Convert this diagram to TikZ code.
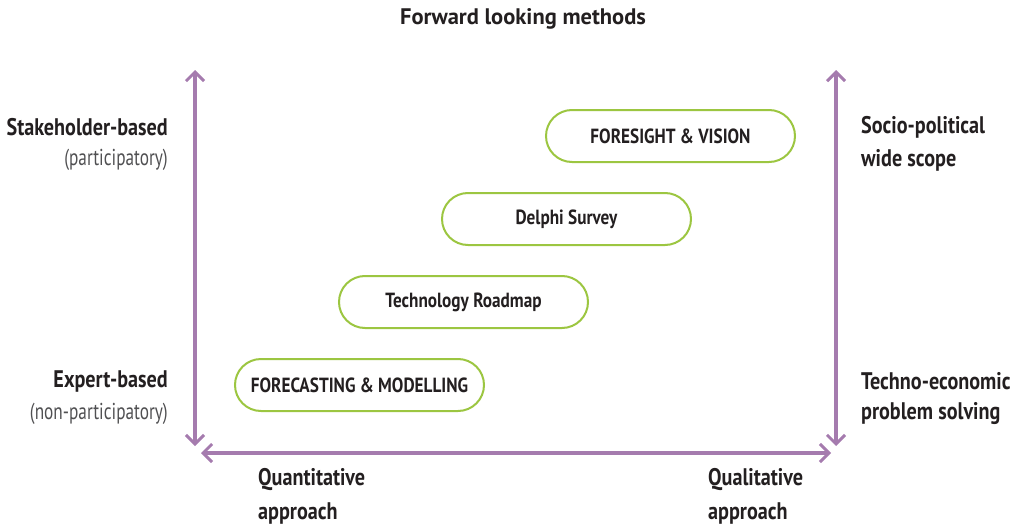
\documentclass[tikz,border=0pt]{standalone}
\usepackage{fontspec}
\setmainfont{PT Sans}[FakeStretch=0.84]
\newfontfamily\titlefont{PT Sans}
\newfontfamily\narrowfont{PT Sans}[FakeStretch=0.75]
\usetikzlibrary{arrows.meta}
\definecolor{axis}{HTML}{A57BAE}
\definecolor{pill}{HTML}{9CC641}
\definecolor{ink}{HTML}{231F20}
\definecolor{soft}{HTML}{505052}
\tikzset{
  pillbox/.style={draw=pill, line width=2pt, rounded corners=26pt, fill=white,
    minimum width=249pt, minimum height=52pt, font=\fontsize{20.5}{24}\selectfont\bfseries, text=ink},
  axisline/.style={draw=axis, line width=4pt, {Straight Barb[length=9pt,width=18pt,line width=3pt]}-{Straight Barb[length=9pt,width=18pt,line width=3pt]}},
  lab/.style={font=\fontsize{24}{33}\selectfont\bfseries, text=ink, inner sep=0pt},
  sublab/.style={font=\narrowfont\fontsize{23}{33}\selectfont, text=soft, inner sep=0pt},
}
\begin{document}
\begin{tikzpicture}[x=1pt,y=-1pt]
\useasboundingbox (0,0) rectangle (1021,530);
\node[font=\titlefont\fontsize{22.5}{26}\selectfont\bfseries, text=ink] (title) at (523,19) {Forward looking methods};

\coordinate (ltop) at (195,70);
\coordinate (lbot) at (195,446);
\coordinate (rtop) at (836,70);
\coordinate (rbot) at (836,446);
\coordinate (hl) at (201,453);
\coordinate (hr) at (831,453);
\draw[axisline] (ltop) -- (lbot);
\draw[axisline] (rtop) -- (rbot);
\draw[axisline] (hl) -- (hr);

\node[pillbox] (fv) at (670.5,136) {FORESIGHT \& VISION};
\node[pillbox] (ds) at (566.5,219) {Delphi Survey};
\node[pillbox] (tr) at (463.5,302) {Technology Roadmap};
\node[pillbox] (fm) at (359.5,385) {FORECASTING \& MODELLING};

\node[lab, anchor=east] (sb) at (168,127) {Stakeholder-based};
\node[sublab, anchor=east] (pa) at (168,160) {(participatory)};
\node[lab, anchor=east] (eb) at (168,381) {Expert-based};
\node[sublab, anchor=east] (np) at (168,414) {(non-participatory)};

\node[lab, anchor=west] (sp) at (861,127) {Socio-political};
\node[lab, anchor=west] (ws) at (861,160) {wide scope};
\node[lab, anchor=west] (te) at (861,381) {Techno-economic};
\node[lab, anchor=west] (ps) at (861,414) {problem solving};

\node[lab, anchor=west] (qn) at (258,480) {Quantitative};
\node[lab, anchor=west] (qna) at (258,513) {approach};
\node[lab, anchor=west] (ql) at (708,480) {Qualitative};
\node[lab, anchor=west] (qla) at (708,513) {approach};
\end{tikzpicture}
\end{document}
